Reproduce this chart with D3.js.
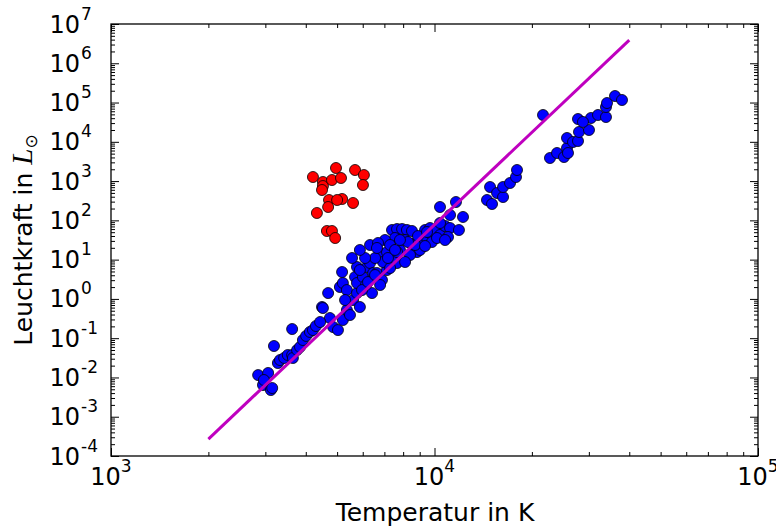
<!DOCTYPE html>
<style>
  body { margin: 0; }
  text { font-family: "DejaVu Sans"; fill: black; }
  .tick line { stroke: black; stroke-width: 1; }
</style>

<svg width="776" height="527"></svg>

<script src="https://d3js.org/d3.v7.min.js"></script>
<script>
  // main sequence + giants, temperature in K, luminosity in L_sun
  var blueT = [2850,2950,3120,3060,3150,3280,3330,3190,3430,3520,3630,3650,3630,3760,3840,3920,4010,4120,4210,4300,
    4490,4520,4690,4750,4860,5030,5100,5180,5210,5360,5210,5360,5600,5760,5680,5760,5760,5880,6010,6190,
    6320,6410,6460,6320,6640,6790,6880,7130,7130,7660,7820,8830,5480,4430,2970,
    7390,7660,7940,8220,8520,7550,7030,6690,7290,8110,8520,9020,9350,9690,9350,9690,10040,10400,10780,11170,
    10400,11010,11900,12250,11650,10400,11170,9020,8400,8110,7440,6930,6550,6100,5880,5560,6640,8710,9820,10180,
    7660,9350,7290,6790,6140,
    5970,6230,6550,7180,7550,8280,8890,9480,5290,5880,7820,10780,
    14530,15060,14850,15610,16290,16290,17120,17860,17990,21650,22750,23920,25140,25680,25680,26800,27770,27970,
    27770,30030,30460,32020,33890,33890,34140,36140,37980,25860,28770];
  var blueL = [0.0115,0.00642,0.00478,0.0130,0.00538,0.0233,0.0278,0.0632,0.0313,0.0373,0.0373,0.0313,0.171,0.0500,0.0596,
    0.0898,0.114,0.144,0.161,0.204,0.622,0.586,1.41,0.326,0.192,0.161,2.01,4.84,0.290,0.521,2.54,1.68,0.937,1.41,3.61,
    2.54,6.49,0.622,3.61,6.49,8.20,1.41,4.56,23.6,4.56,14.7,3.03,15.6,5.44,8.20,17.6,15.6,0.389,0.258,0.00860,
    56.8,60.2,60.2,56.8,53.6,35.5,31.6,26.5,23.6,31.6,25.0,35.5,39.9,47.6,56.8,63.9,53.6,42.4,71.8,63.9,
    85.6,37.7,56.8,122,293,219,137,17.6,13.1,8.70,11.0,8.70,11.0,11.0,17.6,11.0,19.8,23.6,28.1,35.5,
    15.6,22.2,6.12,2.26,2.26,
    1.68,2.69,4.06,11.0,17.6,28.1,39.9,50.5,0.937,5.44,31.6,31.6,
    330,261,707,497,393,707,894,1270,1915,48200,3870,5190,4100,6960,12500,9890,10500,17800,
    38100,20000,40400,48200,42800,77000,97300,146700,116100,5190,32000];

  var redT = [4210,4520,4520,4490,4820,4960,5140,5680,6050,6010,4720,4690,5180,5600,4330,5000,4650,4820,4930];
  var redL = [1270,948,749,593,1065,2153,1198,1915,1428,795,330,219,350,277,154,330,53.6,53.6,35.5];

  var lineT = [2000, 40000];
  var lineL = [2.7e-4, 3.9e6];

  var xExp = [3, 4, 5];
  var yExp = [-4, -3, -2, -1, 0, 1, 2, 3, 4, 5, 6, 7];

  var svg = d3.select("svg");
  var x = d3.scaleLog().domain([1e3, 1e5]).range([111, 758]);
  var y = d3.scaleLog().domain([1e-4, 1e7]).range([456, 24]);

  function minors(exps) {
    var out = [];
    exps.slice(0, -1).forEach(function(e) {
      for (var m = 2; m <= 9; m++) out.push(m * Math.pow(10, e));
    });
    return out;
  }
  var xMaj = xExp.map(function(e) { return Math.pow(10, e); });
  var yMaj = yExp.map(function(e) { return Math.pow(10, e); });

  // ticks pointing inward on all four sides
  function ticks(axis, vals, size, tr) {
    var g = svg.append("g").attr("transform", tr)
      .call(axis.tickValues(vals).tickSize(-size).tickSizeOuter(0).tickFormat(""));
    g.select(".domain").remove();
  }
  [[xMaj, 8], [minors(xExp), 4]].forEach(function(d) {
    ticks(d3.axisBottom(x), d[0], d[1], "translate(0,456)");
    ticks(d3.axisTop(x), d[0], d[1], "translate(0,24)");
  });
  [[yMaj, 8], [minors(yExp), 4]].forEach(function(d) {
    ticks(d3.axisLeft(y), d[0], d[1], "translate(111,0)");
    ticks(d3.axisRight(y), d[0], d[1], "translate(758,0)");
  });

  // tick labels
  var xl = svg.append("g").selectAll("text").data(xExp).enter().append("text")
    .attr("x", function(e) { return x(Math.pow(10, e)); })
    .attr("y", 485)
    .attr("text-anchor", "middle")
    .style("font-size", "24px");
  xl.append("tspan").text("10");
  xl.append("tspan").attr("dy", -13).style("font-size", "17px").text(function(e) { return e; });

  var yl = svg.append("g").selectAll("g").data(yExp).enter().append("g")
    .attr("transform", function(e) { return "translate(0," + (y(Math.pow(10, e)) + 8.5) + ")"; });
  yl.append("text").attr("x", 80).attr("text-anchor", "end").style("font-size", "24px").text("10");
  yl.append("text").attr("x", 81).attr("y", -13).style("font-size", "17px").text(function(e) { return e; });

  // data
  svg.append("g").selectAll("circle").data(blueT).enter().append("circle")
    .attr("cx", function(d) { return x(d); })
    .attr("cy", function(d, i) { return y(blueL[i]); })
    .attr("r", 5.5)
    .attr("fill", "#0000ff").attr("stroke", "black").attr("stroke-width", 0.8);

  svg.append("g").selectAll("circle").data(redT).enter().append("circle")
    .attr("cx", function(d) { return x(d); })
    .attr("cy", function(d, i) { return y(redL[i]); })
    .attr("r", 5.5)
    .attr("fill", "#ff0000").attr("stroke", "black").attr("stroke-width", 0.8);

  var line = d3.line()
    .x(function(d) { return x(d); })
    .y(function(d, i) { return y(lineL[i]); });
  svg.append("path")
    .attr("d", line(lineT))
    .attr("fill", "none").attr("stroke", "#bf00bf").attr("stroke-width", 3);

  svg.append("rect")
    .attr("x", 111).attr("y", 24).attr("width", 647).attr("height", 432)
    .attr("fill", "none").attr("stroke", "black").attr("stroke-width", 1.3);

  // axis titles
  svg.append("text")
    .attr("x", 435).attr("y", 521)
    .attr("text-anchor", "middle")
    .style("font-size", "25px")
    .text("Temperatur in K");

  var yt = svg.append("text")
    .attr("transform", "translate(32,240) rotate(-90)")
    .attr("text-anchor", "middle")
    .style("font-size", "25px");
  yt.append("tspan").text("Leuchtkraft in ");
  yt.append("tspan").style("font-family", "Liberation Serif").style("font-style", "italic")
    .style("font-size", "29px").text("L");
  yt.append("tspan").attr("dy", 5).style("font-size", "17px").text("\u2299");
</script>
